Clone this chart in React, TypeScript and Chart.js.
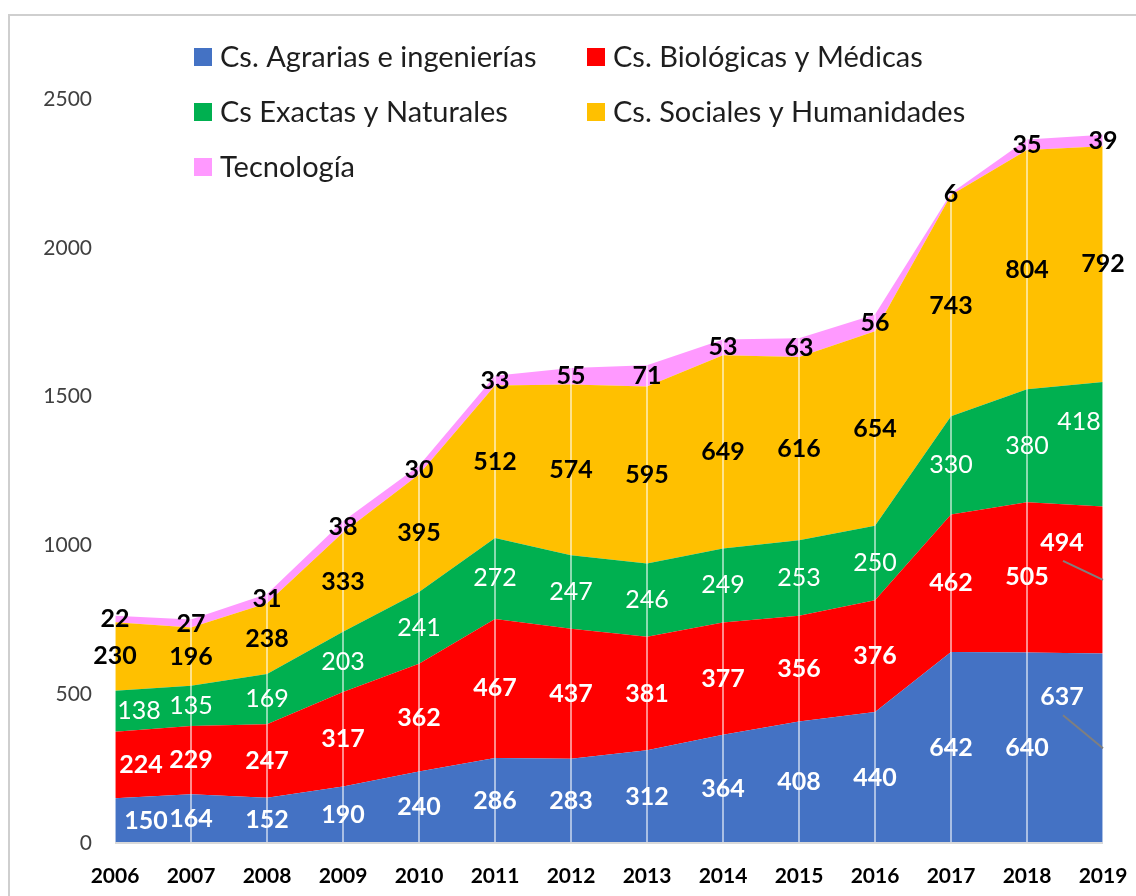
import React, { useEffect, useRef } from "react";
import { Chart, registerables } from "chart.js";

Chart.register(...registerables);

const years = ["2006", "2007", "2008", "2009", "2010", "2011", "2012", "2013", "2014", "2015", "2016", "2017", "2018", "2019"];
const agrarias = [150, 164, 152, 190, 240, 286, 283, 312, 364, 408, 440, 642, 640, 637];
const biologicas = [224, 229, 247, 317, 362, 467, 437, 381, 377, 356, 376, 462, 505, 494];
const exactas = [138, 135, 169, 203, 241, 272, 247, 246, 249, 253, 250, 330, 380, 418];
const sociales = [230, 196, 238, 333, 395, 512, 574, 595, 649, 616, 654, 743, 804, 792];
const tecnologia = [22, 27, 31, 38, 30, 33, 55, 71, 53, 63, 56, 6, 35, 39];
const seriesNames = [
  "Cs. Agrarias e ingenierías",
  "Cs. Biológicas y Médicas",
  "Cs Exactas y Naturales",
  "Cs. Sociales y Humanidades",
  "Tecnología",
];
const yTicks = [0, 500, 1000, 1500, 2000, 2500];

const seriesData = [agrarias, biologicas, exactas, sociales, tecnologia];
const colors = ["#4472C4", "#FF0000", "#00B050", "#FFC000", "#FF99FF"];
const labelColors = ["#FFFFFF", "#FFFFFF", "#FFFFFF", "#000000", "#000000"];
const labelWeights = ["bold", "bold", "normal", "bold", "bold"];
const FONT = "Lato, 'Open Sans', sans-serif";

const framePlugin = {
  id: "frame",
  beforeDraw(chart: any) {
    const ctx = chart.ctx;
    ctx.save();
    ctx.fillStyle = "#FFFFFF";
    ctx.fillRect(0, 0, chart.width, chart.height);
    ctx.strokeStyle = "#CFCFCF";
    ctx.lineWidth = 2;
    ctx.strokeRect(9, 15, chart.width + 20, chart.height + 20);
    ctx.restore();
  },
};

const overlayPlugin = {
  id: "overlay",
  afterDatasetsDraw(chart: any) {
    const ctx = chart.ctx;
    const xs = chart.scales.x;
    const ys = chart.scales.y;
    const n = years.length;
    ctx.save();
    // drop lines
    ctx.strokeStyle = "rgba(255,255,255,0.55)";
    ctx.lineWidth = 2;
    for (let i = 0; i < n; i++) {
      let total = 0;
      for (const s of seriesData) total += s[i];
      const x = xs.getPixelForValue(i);
      ctx.beginPath();
      ctx.moveTo(x, ys.getPixelForValue(0));
      ctx.lineTo(x, ys.getPixelForValue(total));
      ctx.stroke();
    }
    // x axis line
    ctx.strokeStyle = "#D9D9D9";
    ctx.lineWidth = 2;
    ctx.beginPath();
    ctx.moveTo(chart.chartArea.left, ys.getPixelForValue(0));
    ctx.lineTo(chart.chartArea.right, ys.getPixelForValue(0));
    ctx.stroke();

    // data labels
    ctx.textAlign = "center";
    ctx.textBaseline = "middle";
    for (let d = 0; d < seriesData.length; d++) {
      for (let i = 0; i < n; i++) {
        let base = 0;
        for (let k = 0; k < d; k++) base += seriesData[k][i];
        const v = seriesData[d][i];
        const px = xs.getPixelForValue(i);
        const py = ys.getPixelForValue(base + v / 2);
        let dx = 0;
        let dy = 0;
        let leader = false;
        if (i === 0 && d < 3) dx = [31, 26, 24][d];
        if (i === n - 1) {
          if (d === 0) { dx = -41; dy = -51; leader = true; }
          if (d === 1) { dx = -41; dy = -37; leader = true; }
          if (d === 2) { dx = -24; dy = -22; }
        }
        const lx = px + dx;
        const ly = py + dy;
        if (leader) {
          ctx.strokeStyle = "#7F7F7F";
          ctx.lineWidth = 2;
          ctx.beginPath();
          ctx.moveTo(lx + 1, ly + 18);
          ctx.lineTo(px, py);
          ctx.stroke();
        }
        ctx.fillStyle = labelColors[d];
        ctx.font = `${labelWeights[d]} 25px ${FONT}`;
        ctx.fillText(String(v), lx, ly);
      }
    }
    ctx.restore();
  },
  afterDraw(chart: any) {
    const ctx = chart.ctx;
    ctx.save();
    const colX = [194, 587];
    const rowY = [57, 112, 167];
    ctx.font = `29px ${FONT}`;
    ctx.textBaseline = "middle";
    ctx.textAlign = "left";
    for (let d = 0; d < seriesNames.length; d++) {
      const x = colX[d % 2];
      const y = rowY[Math.floor(d / 2)];
      ctx.fillStyle = colors[d];
      ctx.fillRect(x, y - 9, 18, 18);
      ctx.fillStyle = "#1E1E1E";
      ctx.fillText(seriesNames[d], x + 26, y + 1);
    }
    ctx.restore();
  },
};

export default function App() {
  const ref = useRef<HTMLCanvasElement | null>(null);
  useEffect(() => {
    if (!ref.current) return;
    const chart = new Chart(ref.current, {
      type: "line",
      data: {
        labels: years,
        datasets: seriesData.map((s, d) => ({
          label: seriesNames[d],
          data: s,
          backgroundColor: colors[d],
          borderColor: colors[d],
          borderWidth: 0,
          pointRadius: 0,
          tension: 0,
          fill: d === 0 ? "origin" : "-1",
        })),
      },
      options: {
        animation: false,
        responsive: false,
        devicePixelRatio: 1,
        layout: { padding: { top: 99, right: 33, bottom: 0, left: 0 } },
        plugins: { legend: { display: false }, tooltip: { enabled: false } },
        scales: {
          x: {
            type: "category",
            offset: false,
            grid: { display: false, drawTicks: false },
            border: { display: false },
            ticks: {
              color: "#000000",
              font: { family: FONT, size: 21, weight: "bold" },
              padding: 21,
              maxRotation: 0,
              autoSkip: false,
            },
            afterFit(scale: any) {
              scale.height = 53;
              scale.paddingLeft = 0;
              scale.paddingRight = 0;
            },
          },
          y: {
            stacked: true,
            min: 0,
            max: 2500,
            afterBuildTicks(scale: any) {
              scale.ticks = yTicks.map((v) => ({ value: v }));
            },
            grid: { display: false, drawTicks: false },
            border: { display: false },
            ticks: {
              color: "#404040",
              font: { family: FONT, size: 21 },
              padding: 23,
              callback: (v: any) => String(v),
            },
            afterFit(scale: any) {
              scale.width = 115;
            },
          },
        },
      },
      plugins: [framePlugin, overlayPlugin],
    });
    return () => chart.destroy();
  }, []);
  return (
    <div style={{ position: "absolute", left: 0, top: 0, width: 1136, height: 896, overflow: "hidden" }}>
      <canvas ref={ref} width={1136} height={896} style={{ display: "block" }} />
    </div>
  );
}
